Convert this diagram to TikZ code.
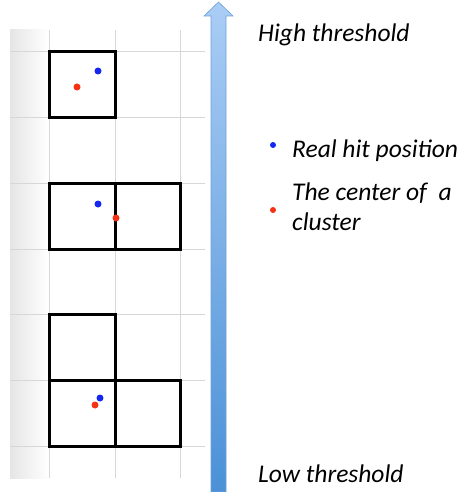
\documentclass[tikz,border=0pt]{standalone}
\usepackage{fontspec}
\setmainfont{Carlito}
\usetikzlibrary{shadings}
\definecolor{gridc}{RGB}{215,215,215}
\definecolor{hitblue}{RGB}{20,40,240}
\definecolor{cenred}{RGB}{245,50,20}
\definecolor{arrtop}{RGB}{170,205,245}
\definecolor{arrbot}{RGB}{75,145,215}
\definecolor{arredge}{RGB}{110,160,215}
\tikzset{
  gridline/.style={draw=gridc, line width=1pt},
  padbox/.style={draw=black, line width=3pt},
  dot/.style={circle, inner sep=0pt, minimum size=7pt},
  bluedot/.style={dot, fill=hitblue},
  reddot/.style={dot, fill=cenred},
  lbl/.style={font=\fontsize{25.5}{30}\selectfont\itshape, anchor=base west, inner sep=0pt, align=left},
}
\begin{document}
\begin{tikzpicture}[x=1pt,y=-1pt]
\useasboundingbox (0,0) rectangle (462,492);
% shaded strip
\shade[left color=black!10, right color=white] (10,30) rectangle (49,478);
% grid
\foreach \x in {49,115,180} \draw[gridline] (\x,30) -- (\x,478);
\foreach \y in {52,118,183,249,314,380,446} \draw[gridline] (10,\y) -- (205,\y);
% pad boxes
\draw[padbox] (49,52) rectangle (115,118);
\draw[padbox] (49,183) rectangle (180,249);
\draw[padbox] (115,183) -- (115,249);
\draw[padbox] (49,314) rectangle (115,380);
\draw[padbox] (49,380) rectangle (180,446);
\draw[padbox] (115,380) -- (115,446);
% dots
\node[bluedot] (b1) at (98,71) {};
\node[reddot] (r1) at (77,87) {};
\node[bluedot] (b2) at (98,204) {};
\node[reddot] (r2) at (116,218) {};
\node[bluedot] (b3) at (100,398) {};
\node[reddot] (r3) at (95,405) {};
% arrow
\shade[top color=arrtop, bottom color=arrbot, draw=arredge, line width=0.6pt]
  (211,492) -- (211,16) -- (204,16) -- (218.5,2) -- (233,16) -- (226,16) -- (226,492) -- cycle;
% labels
\node[lbl] (hi) at (258,42) {High threshold};
\node[lbl] (lo) at (258,482) {Low threshold};
\node[bluedot, minimum size=6pt] (lb) at (273,145) {};
\node[lbl] (lbt) at (292,157) {Real hit position};
\node[reddot, minimum size=6pt] (lr) at (273,210) {};
\node[lbl] (lrt) at (292,200) {The center of~ a};
\node[lbl] (lrt2) at (292,230) {cluster};
\end{tikzpicture}
\end{document}
